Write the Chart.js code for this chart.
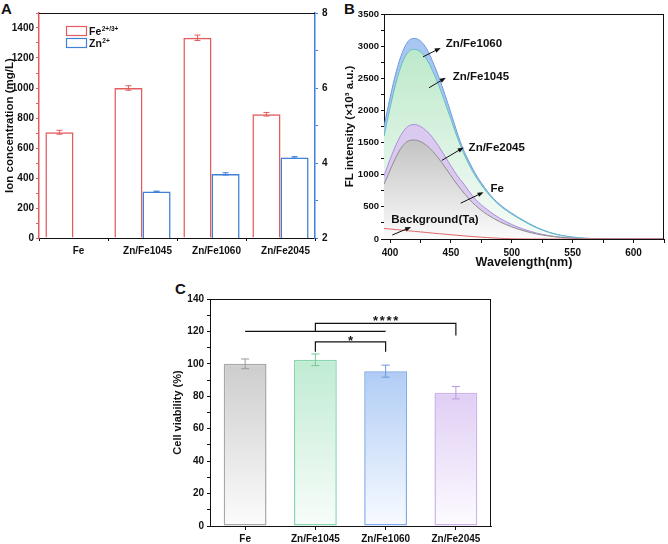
<!DOCTYPE html>
<html><head><meta charset="utf-8">
<script src="https://cdn.jsdelivr.net/npm/chart.js@4.4.1/dist/chart.umd.min.js"></script>
<style>
html,body{margin:0;padding:0;background:#fff;}
body{width:668px;height:544px;position:relative;overflow:hidden;font-family:'Liberation Sans',Arial,sans-serif;}
canvas{position:absolute;}
.lbl{position:absolute;font-weight:bold;font-size:15px;line-height:15px;color:#111;}
</style></head><body>
<div class="lbl" style="left:1px;top:1px">A</div>
<div class="lbl" style="left:344px;top:1px">B</div>
<div class="lbl" style="left:175px;top:281px">C</div>
<canvas id="ca" width="340" height="270" style="left:0;top:0"></canvas>
<canvas id="cb" width="328" height="272" style="left:340px;top:0"></canvas>
<canvas id="cc" width="370" height="264" style="left:150px;top:280px"></canvas>
<script>
// ---------- DATA ----------
const categories = ['Fe', 'Zn/Fe1045', 'Zn/Fe1060', 'Zn/Fe2045'];

// Panel A: ion concentration
const feIon = [705, 1000, 1335, 825];
const feIonErr = [13, 15, 18, 12];
const znIon = [null, 3.24, 3.71, 4.15];
const znIonErr = [null, 0.01, 0.03, 0.02];

// Panel B: fluorescence spectra (x10^3 a.u.)
const wavelength = [395,400,405,410,415,420,425,430,435,440,445,450,455,460,465,470,475,480,485,490,495,500,505,510,515,520,525,530,535,540,545,550,555,560,570,580,600,625];
const flZnFe1060 = [1750,2200,2600,2900,3080,3120,3080,2960,2760,2520,2250,1960,1660,1400,1200,1020,870,740,630,540,465,400,340,285,232,185,145,110,82,60,43,30,20,12,4,1,0,0];
const flZnFe1045 = [1600,2040,2440,2740,2910,2950,2910,2800,2610,2390,2130,1860,1590,1350,1150,980,840,715,610,522,450,386,328,274,222,176,138,104,77,56,40,27,18,11,3,1,0,0];
const flZnFe2045 = [980,1240,1470,1650,1755,1780,1750,1680,1575,1440,1290,1135,990,870,740,620,530,455,385,325,272,225,185,150,120,94,72,54,40,29,20,13,8,4,1,0,0,0];
const flFe = [850,1070,1280,1440,1525,1540,1515,1455,1365,1250,1120,985,850,730,620,525,445,378,320,270,226,188,155,126,101,80,62,47,35,25,17,11,7,4,1,0,0,0];
const flBackground = [165,155,146,137,128,119,110,101,92,83,75,66,58,50,42,35,28,22,16,11,7,4,2,1,0,0,0,0,0,0,0,0,0,0,0,0,0,0];

// Panel C: cell viability (%)
const viability = [100, 102.5, 95.5, 82.2];
const viabilityErr = [3, 3.6, 3.7, 3.8];

// ---------- STYLE ----------
const FONT = "'Liberation Sans', Arial, Helvetica, sans-serif";
const RED = '#e35d5f', BLUE = '#3f80d8';
Chart.defaults.font.family = FONT;
Chart.defaults.font.weight = 'bold';
Chart.defaults.font.size = 10;
Chart.defaults.color = '#111';
Chart.defaults.animation = false;
Chart.defaults.plugins.legend.display = false;
Chart.defaults.plugins.tooltip.enabled = false;

const errorBars = {
  id: 'errorBars',
  afterDatasetsDraw(chart) {
    const c = chart.ctx;
    chart.data.datasets.forEach((ds, di) => {
      if (!ds.errors) return;
      const meta = chart.getDatasetMeta(di);
      const ys = chart.scales[meta.yAxisID];
      meta.data.forEach((bar, i) => {
        const v = ds.data[i], e = ds.errors[i];
        if (v == null || e == null) return;
        const x = bar.x;
        const yT = ys.getPixelForValue(v + e), yB = ys.getPixelForValue(v - e);
        const cw = ds.errorCap;
        c.save();
        c.strokeStyle = Array.isArray(ds.errorColor) ? ds.errorColor[i] : ds.errorColor;
        c.lineWidth = 1;
        c.beginPath();
        c.moveTo(x, yT); c.lineTo(x, yB);
        c.moveTo(x - cw, yT); c.lineTo(x + cw, yT);
        c.moveTo(x - cw, yB); c.lineTo(x + cw, yB);
        c.stroke();
        c.restore();
      });
    });
  }
};

const frame = {
  id: 'frame',
  afterDraw(chart, args, opts) {
    const {left, right, top, bottom} = chart.chartArea;
    const c = chart.ctx;
    c.save(); c.strokeStyle = '#111'; c.lineWidth = 1;
    c.beginPath();
    c.moveTo(left, top + 0.5); c.lineTo(right, top + 0.5);
    if (opts.right) { c.moveTo(right - 0.5, top); c.lineTo(right - 0.5, bottom); }
    c.stroke(); c.restore();
  }
};

// ---------- PANEL A ----------
const legendLabels = [['Fe', '2+/3+'], ['Zn', '2+']];
const legendA = {
  id: 'legendA',
  afterDraw(chart) {
    const c = chart.ctx;
    const cols = [RED, BLUE];
    legendLabels.forEach((it, i) => {
      const y = 26 + i * 12;
      c.save();
      c.strokeStyle = cols[i]; c.lineWidth = 1.2;
      c.strokeRect(66.5, y + 0.5, 20, 9);
      c.fillStyle = '#111';
      c.font = 'bold 10.5px ' + FONT;
      c.fillText(it[0], 89, y + 9);
      const w = c.measureText(it[0]).width;
      c.font = 'bold 6.5px ' + FONT;
      c.fillText(it[1], 89 + w + 0.5, y + 4.5);
      c.restore();
    });
  }
};

new Chart(document.getElementById('ca'), {
  type: 'bar',
  data: {
    labels: categories,
    datasets: [
      {label: 'Fe', data: feIon, errors: feIonErr, errorColor: RED, errorCap: 3, yAxisID: 'y',
       borderColor: RED, backgroundColor: 'rgba(255,255,255,0)', borderWidth: 1.5},
      {label: 'Zn', data: znIon, errors: znIonErr, errorColor: BLUE, errorCap: 3, yAxisID: 'y1',
       borderColor: BLUE, backgroundColor: 'rgba(255,255,255,0)', borderWidth: 1.5}
    ]
  },
  options: {
    responsive: false,
    layout: {padding: {top: 13, left: 0, right: 0, bottom: 0}},
    datasets: {bar: {categoryPercentage: 0.815, barPercentage: 1}},
    scales: {
      x: {
        grid: {drawOnChartArea: false, tickLength: 3, color: '#111'},
        border: {color: '#111', width: 1},
        ticks: {padding: 4, autoSkip: false, maxRotation: 0, labelOffset: 5},
        afterFit: s => { s.height = 32; }
      },
      y: {
        position: 'left', min: 0, max: 1500,
        ticks: {stepSize: 100, includeBounds: false, autoSkip: false, padding: 2, callback: v => v % 200 === 0 ? String(v) : ''},
        grid: {drawOnChartArea: false, tickLength: 3, color: RED},
        border: {color: RED, width: 1.5},
        title: {display: true, text: 'Ion concentration (mg/L)', font: {size: 11.5, weight: 'bold'}, padding: {top: 3, bottom: 0}},
        afterFit: s => { s.width = 39; }
      },
      y1: {
        position: 'right', min: 2, max: 8,
        ticks: {stepSize: 1, autoSkip: false, padding: 4, callback: v => v % 2 === 0 ? String(v) : ''},
        grid: {drawOnChartArea: false, tickLength: 3, color: BLUE},
        border: {color: BLUE, width: 1.5},
        afterFit: s => { s.width = 25; }
      }
    },
    plugins: {frame: {right: false}}
  },
  plugins: [errorBars, frame, legendA]
});

// ---------- PANEL B ----------
const mk = arr => wavelength.map((w, i) => ({x: w, y: arr[i]}));
function vGrad(chart, v0, c0, c1) {
  const {ctx, chartArea, scales} = chart;
  if (!chartArea) return c0;
  const g = ctx.createLinearGradient(0, scales.y.getPixelForValue(v0), 0, chartArea.bottom);
  g.addColorStop(0, c0); g.addColorStop(1, c1);
  return g;
}
const noteText = ['Zn/Fe1060', 'Zn/Fe1045', 'Zn/Fe2045', 'Fe', 'Background(Ta)'];
const noteAt = {
  text: [[445.8, 3034], [451.5, 2523], [464.5, 1424], [482.5, 774], [401, 300]],
  from: [[427, 2833], [432, 2353], [442.5, 1223], [458, 557], [401.8, 62]],
  to:   [[441.6, 2972], [445.8, 2508], [460.5, 1424], [476.8, 728], [417.3, 186]]
};
function arrow(c, x0, y0, x1, y1) {
  const a = Math.atan2(y1 - y0, x1 - x0), L = 6, W = 2.3;
  c.beginPath(); c.moveTo(x0, y0); c.lineTo(x1 - L * 0.6 * Math.cos(a), y1 - L * 0.6 * Math.sin(a)); c.stroke();
  c.beginPath(); c.moveTo(x1, y1);
  c.lineTo(x1 - L * Math.cos(a) + W * Math.sin(a), y1 - L * Math.sin(a) - W * Math.cos(a));
  c.lineTo(x1 - L * Math.cos(a) - W * Math.sin(a), y1 - L * Math.sin(a) + W * Math.cos(a));
  c.closePath(); c.fill();
}
const curveNotes = {
  id: 'curveNotes',
  afterDatasetsDraw(chart) {
    const {ctx: c, scales: {x, y}} = chart;
    c.save();
    c.font = 'bold 11.5px ' + FONT;
    c.fillStyle = '#111'; c.strokeStyle = '#111'; c.lineWidth = 1;
    c.textBaseline = 'middle';
    noteText.forEach((t, i) => {
      c.fillText(t, x.getPixelForValue(noteAt.text[i][0]), y.getPixelForValue(noteAt.text[i][1]));
      arrow(c, x.getPixelForValue(noteAt.from[i][0]), y.getPixelForValue(noteAt.from[i][1]),
               x.getPixelForValue(noteAt.to[i][0]), y.getPixelForValue(noteAt.to[i][1]));
    });
    c.restore();
  }
};

new Chart(document.getElementById('cb'), {
  type: 'line',
  data: {
    datasets: [
      {label: 'Background(Ta)', data: mk(flBackground), borderColor: '#e06868', borderWidth: 1, fill: false},
      {label: 'Fe', data: mk(flFe), borderColor: '#8c8c8c', borderWidth: 1, fill: 'origin',
       backgroundColor: c => vGrad(c.chart, 1540, '#c3c3c3', '#fbfbfb')},
      {label: 'Zn/Fe2045', data: mk(flZnFe2045), borderColor: '#ad8cdc', borderWidth: 1, fill: '-1', backgroundColor: '#dbcaf0'},
      {label: 'Zn/Fe1045', data: mk(flZnFe1045), borderColor: '#5cbfc2', borderWidth: 1, fill: 'origin',
       backgroundColor: c => vGrad(c.chart, 2950, '#bde9cb', '#f7fcf8')},
      {label: 'Zn/Fe1060', data: mk(flZnFe1060), borderColor: '#6f9ae0', borderWidth: 1, fill: '-1', backgroundColor: '#a9c5f1'}
    ]
  },
  options: {
    responsive: false,
    layout: {padding: {top: 14, right: 3, left: 0, bottom: 0}},
    elements: {point: {radius: 0}, line: {tension: 0.4, cubicInterpolationMode: 'monotone'}},
    scales: {
      x: {
        type: 'linear', min: 395, max: 625,
        ticks: {stepSize: 25, includeBounds: false, autoSkip: false, padding: 4, maxRotation: 0, callback: v => v % 50 === 0 ? String(v) : ''},
        grid: {drawOnChartArea: false, tickLength: 4, color: '#111'},
        border: {color: '#111', width: 1},
        title: {display: true, text: 'Wavelength(nm)', font: {size: 12.5, weight: 'bold'}, padding: {top: 0, bottom: 2}},
        afterFit: s => { s.height = 33; }
      },
      y: {
        min: 0, max: 3500,
        ticks: {stepSize: 250, includeBounds: false, autoSkip: false, padding: 2, font: {size: 9.5}, callback: v => v % 500 === 0 ? String(v) : ''},
        grid: {drawOnChartArea: false, tickLength: 3, color: '#111'},
        border: {color: '#111', width: 1},
        title: {display: true, text: 'FL intensity (×10³ a.u.)', font: {size: 11.5, weight: 'bold'}, padding: {top: 3, bottom: 0}},
        afterFit: s => { s.width = 44; }
      }
    },
    plugins: {frame: {right: true}}
  },
  plugins: [frame, curveNotes]
});

// ---------- PANEL C ----------
const cTop = ['#cdcdcd', '#c0ebd3', '#b0ccf5', '#e0cef4'];
const cBottom = ['#fcfcfc', '#f8fdfa', '#f8fbff', '#fdfbff'];
const cBorder = ['#a8a8a8', '#88d6ad', '#82abe9', '#ceb2ec'];
const cErr = ['#9a9a9a', '#72c89a', '#6a96dc', '#b898e0'];
const sigMarks = {
  line: {from: 0, to: 2, y: 120},
  brackets: [
    {from: 1, to: 3, top: 125, leftBottom: 120, rightBottom: 117.5, text: '****', textY: 128.3},
    {from: 1, to: 2, top: 113.5, leftBottom: 107.5, rightBottom: 107.5, text: '*', textY: 116.3}
  ]
};
const sigPlugin = {
  id: 'sig',
  afterDatasetsDraw(chart) {
    const {ctx: c, scales: {x, y}} = chart;
    c.save();
    c.strokeStyle = '#111'; c.fillStyle = '#111'; c.lineWidth = 1.2;
    const L = sigMarks.line;
    c.beginPath();
    c.moveTo(x.getPixelForValue(L.from), y.getPixelForValue(L.y));
    c.lineTo(x.getPixelForValue(L.to), y.getPixelForValue(L.y));
    c.stroke();
    sigMarks.brackets.forEach(b => {
      const x0 = x.getPixelForValue(b.from), x1 = x.getPixelForValue(b.to);
      c.beginPath();
      c.moveTo(x0, y.getPixelForValue(b.leftBottom));
      c.lineTo(x0, y.getPixelForValue(b.top));
      c.lineTo(x1, y.getPixelForValue(b.top));
      c.lineTo(x1, y.getPixelForValue(b.rightBottom));
      c.stroke();
      c.font = 'bold 13px ' + FONT;
      c.textAlign = 'left'; c.textBaseline = 'alphabetic';
      const step = 6.7, n = b.text.length;
      const cx = (x0 + x1) / 2, yc = y.getPixelForValue(b.textY) + 7.5;
      for (let k = 0; k < n; k++) {
        const w = c.measureText('*').width;
        c.fillText('*', cx + (k - (n - 1) / 2) * step - w / 2, yc);
      }
    });
    c.restore();
  }
};

new Chart(document.getElementById('cc'), {
  type: 'bar',
  data: {
    labels: categories,
    datasets: [{
      label: 'Cell viability', data: viability, errors: viabilityErr, errorColor: cErr, errorCap: 4,
      borderColor: cBorder, borderWidth: 1.5, borderSkipped: false,
      backgroundColor: ctx => {
        const ch = ctx.chart, i = ctx.dataIndex;
        if (!ch.chartArea || i == null) return cTop[0];
        const g = ch.ctx.createLinearGradient(0, ch.scales.y.getPixelForValue(viability[i]), 0, ch.chartArea.bottom);
        g.addColorStop(0, cTop[i]); g.addColorStop(1, cBottom[i]);
        return g;
      }
    }]
  },
  options: {
    responsive: false,
    layout: {padding: {top: 19, right: 29, left: 0, bottom: 0}},
    datasets: {bar: {categoryPercentage: 1, barPercentage: 0.61}},
    scales: {
      x: {
        grid: {offset: false, drawOnChartArea: false, tickLength: 4, color: '#111'},
        border: {color: '#111', width: 1},
        ticks: {padding: 3, autoSkip: false, maxRotation: 0},
        afterFit: s => { s.height = 18; }
      },
      y: {
        min: 0, max: 140,
        ticks: {stepSize: 10, includeBounds: false, autoSkip: false, padding: 3, callback: v => v % 20 === 0 ? String(v) : ''},
        grid: {drawOnChartArea: false, tickLength: 3, color: '#111'},
        border: {color: '#111', width: 1},
        title: {display: true, text: 'Cell viability (%)', font: {size: 11, weight: 'bold'}, padding: {top: 21, bottom: 0}},
        afterFit: s => { s.width = 60; }
      }
    },
    plugins: {frame: {right: true}}
  },
  plugins: [errorBars, frame, sigPlugin]
});
</script>
</body></html>
